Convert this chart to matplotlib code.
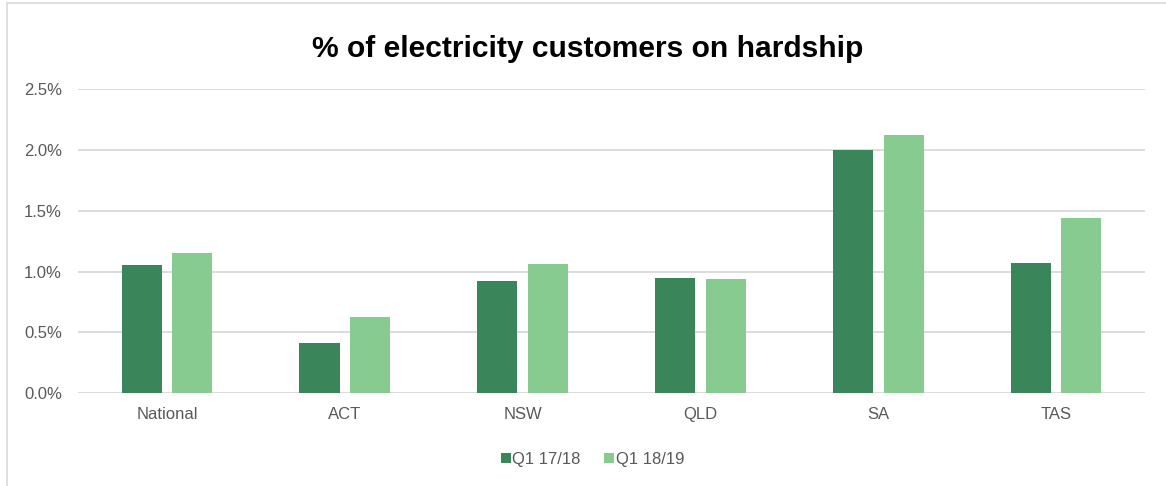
import matplotlib
matplotlib.use("Agg")
from matplotlib import pyplot as plt
from matplotlib.patches import Rectangle
from matplotlib.ticker import FuncFormatter
import numpy as np

plt.rcParams['font.family'] = ['Liberation Sans', 'DejaVu Sans']

regions = ["National", "ACT", "NSW", "QLD", "SA", "TAS"]
q1_1718 = [1.05, 0.41, 0.92, 0.95, 2.00, 1.07]
q1_1819 = [1.15, 0.63, 1.06, 0.94, 2.12, 1.44]

dark = "#3a865a"
light = "#87cb91"
grey = "#595959"

fig = plt.figure(figsize=(11.66, 4.86), dpi=100)
ax = fig.add_axes([0.0669, 0.1907, 0.9151, 0.6262])

x = np.arange(len(regions))
w = 0.225
ax.bar(x - 0.142, q1_1718, width=w, color=dark, label="Q1 17/18", zorder=3)
ax.bar(x + 0.142, q1_1819, width=w, color=light, label="Q1 18/19", zorder=3)

ax.set_xlim(-0.5, len(regions) - 0.5)
ax.set_ylim(0, 2.5)
ax.set_yticks(np.arange(0, 2.51, 0.5))
ax.yaxis.set_major_formatter(FuncFormatter(lambda v, p: "%.1f%%" % v))
ax.set_xticks(x)
ax.set_xticklabels(regions)
ax.grid(axis='y', color="#d9d9d9", linewidth=1.3, zorder=0)
for s in ax.spines.values():
    s.set_visible(False)
ax.tick_params(length=0, labelsize=12, labelcolor=grey)
ax.tick_params(axis='y', pad=11.5)
ax.tick_params(axis='x', pad=10)

fig.text(0.504, 0.9, "% of electricity customers on hardship", ha='center', va='center',
         fontsize=21.6, fontweight='bold', color='black')

fig.legend(loc='center', bbox_to_anchor=(0.508, 0.055), ncol=2, frameon=False,
           fontsize=12, handlelength=0.6, handleheight=0.6, handletextpad=0.1,
           columnspacing=1.4, labelcolor=grey)

# outer frame
fig.add_artist(Rectangle((0.006, -0.01), 1.0, 1.004, transform=fig.transFigure,
                         fill=False, edgecolor="#d9d9d9", linewidth=1.2))

fig.savefig("out.png", dpi=100)
